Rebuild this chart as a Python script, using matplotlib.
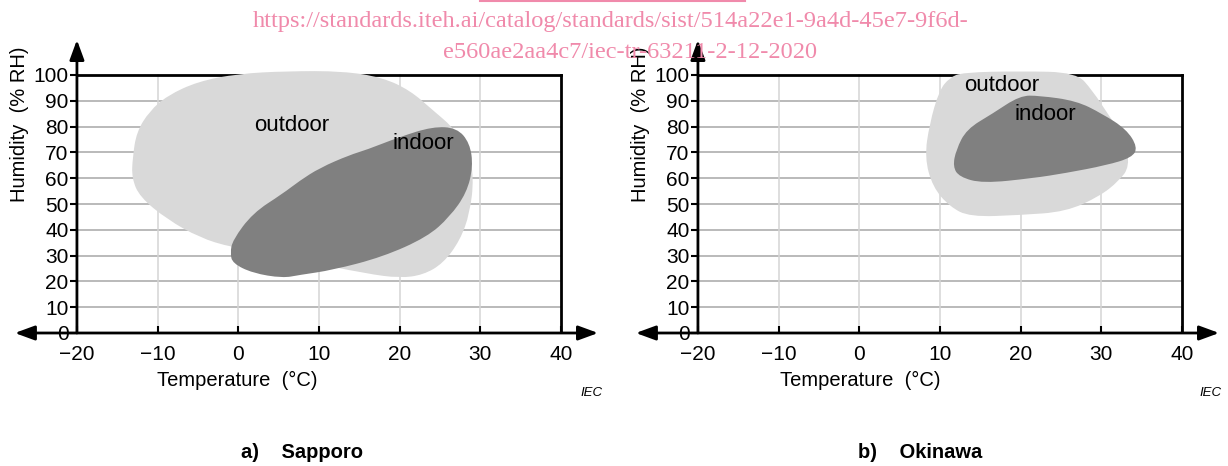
import numpy as np
import matplotlib
matplotlib.use('Agg')
import matplotlib.pyplot as plt
from matplotlib.path import Path
from matplotlib.patches import PathPatch

plt.rcParams['font.family'] = ['Liberation Sans', 'DejaVu Sans']

# Boundary points of the humidity/temperature regions (deg C, % RH)
sap_out_t = [-13.1, -12.6, -11.0, -8.8, -5.0, 0.0, 6.0, 13.0, 17.9, 21.3, 24.1, 26.5, 28.5,
             29.2, 28.7, 27.5, 25.4, 22.9, 20.0, 15.9, 8.0, -1.0, -4.8, -8.8, -12.2, -13.2]
sap_out_h = [68, 78, 86, 92, 97.5, 100.5, 101.5, 101.5, 99, 94, 86.4, 80, 72,
             60, 46.5, 36, 27, 22.5, 21.3, 23, 28, 33.3, 37, 44, 52.7, 60]

sap_in_t = [-1.0, -0.7, 1.8, 5.5, 7.6, 10.1, 13.8, 15.9, 20.0, 24.1, 27.1, 28.7, 29.1,
            28.3, 26.2, 23.4, 17.9, 11.7, 7.6, 5.5, 1.8, -0.7]
sap_in_h = [31, 36, 46.5, 54, 59, 64, 69, 71, 76, 80, 79.5, 73.6, 64.5,
            54.3, 45, 37.2, 29.5, 24.4, 22.5, 21.3, 23.2, 27]

oki_out_t = [11.2, 12.8, 20.0, 26.9, 28.9, 31.0, 33.0, 33.5, 32.2, 29.8, 25.6, 19.9,
             13.7, 11.2, 9.1, 8.1, 8.7, 9.9]
oki_out_h = [99, 101, 101.5, 101, 94, 84, 75, 64.5, 59, 53, 47, 45.7,
             45, 49, 56.6, 68, 81, 94]

oki_in_t = [11.6, 12.0, 13.3, 16.5, 19.9, 22.3, 26.9, 30.1, 33.1, 34.5, 33.8, 30.6,
            25.6, 21.5, 15.3, 12.4]
oki_in_h = [64.5, 71, 79, 85, 92, 92, 90, 85, 79, 72, 68, 65,
            62, 60, 58, 60.5]

x_ticks = [-20, -10, 0, 10, 20, 30, 40]
y_ticks = [0, 10, 20, 30, 40, 50, 60, 70, 80, 90, 100]

OUT_COL = '#d9d9d9'
IN_COL = '#808080'
FS = 15


def blob(ax, xs, ys, color):
    # closed smooth outline: read points act as control points of a quadratic spline
    pts = np.column_stack([xs, ys])
    mids = (pts + np.roll(pts, -1, axis=0)) / 2
    verts = [mids[-1]]
    codes = [Path.MOVETO]
    for p, m in zip(pts, mids):
        verts += [p, m]
        codes += [Path.CURVE3, Path.CURVE3]
    ax.add_patch(PathPatch(Path(verts, codes), fc=color, ec='none', zorder=3))


def panel(ax, out_t, out_h, in_t, in_h, lab_out, lab_in):
    ax.set_xlim(-28, 46)
    ax.set_ylim(0, 115)
    for s in ['top', 'right']:
        ax.spines[s].set_visible(False)
    ax.spines['left'].set_position(('data', -20))
    ax.spines['left'].set_visible(False)
    ax.spines['bottom'].set_visible(False)

    for y in y_ticks[1:-1]:
        ax.plot([-20, 40], [y, y], color='#b4b4b4', lw=1.3, zorder=1)
    for x in x_ticks[1:-1]:
        ax.plot([x, x], [0, 100], color='#d4d4d4', lw=1.1, zorder=1)
    ax.plot([-20, 40], [100, 100], color='black', lw=2, zorder=2)
    ax.plot([40, 40], [0, 100], color='black', lw=2, zorder=2)

    blob(ax, out_t, out_h, OUT_COL)
    blob(ax, in_t, in_h, IN_COL)
    ax.text(lab_out[0], lab_out[1], 'outdoor', fontsize=16, ha='center', va='center', zorder=4)
    ax.text(lab_in[0], lab_in[1], 'indoor', fontsize=16, ha='center', va='center', zorder=4)

    arr = 'head_length=0.6,head_width=0.22'
    ax.annotate('', xy=(44.6, 0), xytext=(-27.7, 0), annotation_clip=False, zorder=5,
                arrowprops=dict(arrowstyle='<|-|>,' + arr, color='black', lw=2,
                                mutation_scale=20, shrinkA=0, shrinkB=0))
    ax.annotate('', xy=(-20, 113.6), xytext=(-20, 0), annotation_clip=False, zorder=5,
                arrowprops=dict(arrowstyle='-|>,' + arr, color='black', lw=2,
                                mutation_scale=20, shrinkA=0, shrinkB=0))

    ax.set_xticks(x_ticks)
    ax.set_yticks(y_ticks)
    ax.tick_params(axis='x', direction='in', length=5, width=1.5, labelsize=FS, pad=9)
    ax.tick_params(axis='y', direction='out', length=5, width=1.5, labelsize=FS, pad=1)
    ax.patch.set_visible(False)


fig = plt.figure(figsize=(12.28, 4.66), dpi=100)
W, H = 1228, 466
ax1 = fig.add_axes([12.4 / W, 1 - 333 / H, 597 / W, 296.7 / H])
ax2 = fig.add_axes([633.4 / W, 1 - 333 / H, 597 / W, 296.7 / H])

panel(ax1, sap_out_t, sap_out_h, sap_in_t, sap_in_h, (6.6, 80.6), (22.9, 73.6))
panel(ax2, oki_out_t, oki_out_h, oki_in_t, oki_in_h, (17.7, 96), (23, 84.5))

for cx, cy in [(20, 124), (641, 124)]:
    fig.text(cx / W, 1 - cy / H, 'Humidity  (% RH)', rotation=90, fontsize=14.5,
             ha='center', va='center')
for cx in [237, 860]:
    fig.text(cx / W, 1 - 380 / H, 'Temperature  (°C)', fontsize=14.5, ha='center', va='center')
for rx in [603, 1222]:
    fig.text(rx / W, 1 - 393 / H, 'IEC', fontsize=9.5, style='italic', ha='right', va='center')

fig.text(302 / W, 1 - 452 / H, 'a)    Sapporo', fontsize=14.5, weight='bold',
         ha='center', va='center')
fig.text(920 / W, 1 - 452 / H, 'b)    Okinawa', fontsize=14.5, weight='bold',
         ha='center', va='center')

# watermark overlay
pink = '#f08aab'
fig.text(253 / W, 1 - 22 / H, 'https://standards.iteh.ai/catalog/standards/sist/514a22e1-9a4d-45e7-9f6d-',
         fontsize=17.6, color=pink, family='Liberation Serif', ha='left', va='center', zorder=10)
fig.text(443 / W, 1 - 52 / H, 'e560ae2aa4c7/iec-tr-63211-2-12-2020',
         fontsize=17.6, color=pink, family='Liberation Serif', ha='left', va='center', zorder=10)
fig.add_artist(plt.Line2D([480 / W, 745 / W], [1 - 0.8 / H, 1 - 0.8 / H], color=pink, lw=1.5))

fig.savefig('out.png', dpi=100)
